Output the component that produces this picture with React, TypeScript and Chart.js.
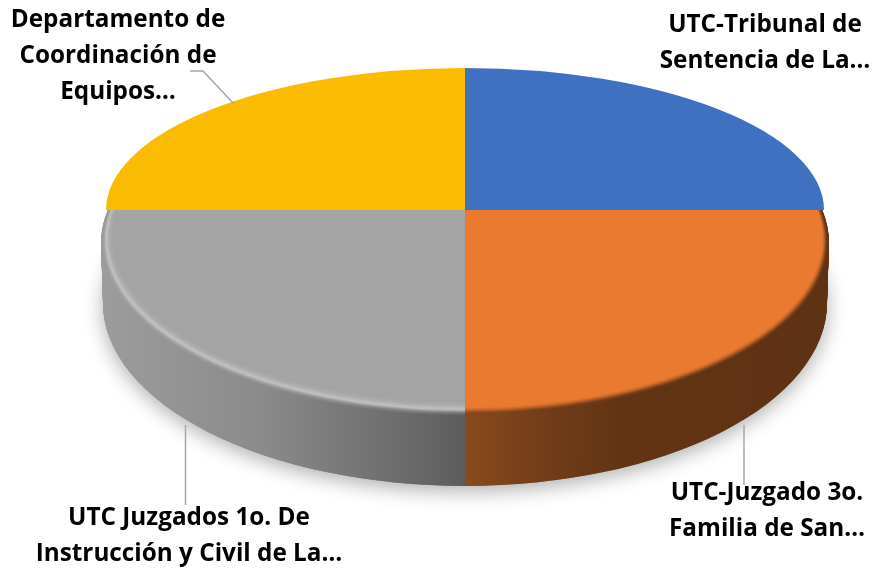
import React, { useEffect, useRef } from "react";
import { Chart, registerables } from "chart.js";

Chart.register(...registerables);

const categories = [
  "UTC-Tribunal de Sentencia de La…",
  "UTC-Juzgado 3o. Familia de San…",
  "UTC Juzgados 1o. De Instrucción y Civil de La…",
  "Departamento de Coordinación de Equipos…",
];
const values = [25, 25, 25, 25];
const colors = ["#4070c0", "#ea7a30", "#a4a4a4", "#fabc00"];
const labelLines = [
  ["UTC-Tribunal de", "Sentencia de La…"],
  ["UTC-Juzgado 3o.", "Familia de San…"],
  ["UTC Juzgados 1o. De", "Instrucción y Civil de La…"],
  ["Departamento de", "Coordinación de", "Equipos…"],
];
const labelCenterX = [765, 767, 189, 118];
const labelFirstBaseline = [32, 500, 525, 27];
const lineHeight = 36;
const leaders = [
  null,
  [[744, 425], [744, 485]],
  [[185.5, 425], [185.5, 505]],
  [[190, 71], [203, 71], [234, 104]],
];

const CX = 465;
const SPLIT = 210;
const TOP = { cy: 210, rx: 359, ry: 142 };
const LOW = { cy: 243, rx: 364, ry: 173 };
const BASE = { cy: 303, rx: 362, ry: 183 };

// wall colour stops: fraction along the half (0 = centre line, 1 = outer edge), r, g, b
const wallStops: Record<number, number[][]> = {
  1: [[0, 138, 74, 30], [0.18, 117, 63, 25], [0.42, 99, 52, 20], [1, 95, 50, 19]],
  2: [[0, 92, 92, 92], [0.2, 110, 110, 110], [0.55, 138, 138, 138], [1, 156, 156, 156]],
};
// bevel: inset in px, target colour, weight of the wall colour
const rimStops: Record<number, number[][]> = {
  1: [[0, 95, 50, 19, 1], [2, 124, 64, 25, 0.75], [4, 168, 90, 36, 0.35], [6, 208, 108, 42, 0.1], [8, 230, 120, 47, 0], [10, 234, 122, 48, 0]],
  2: [[0, 150, 150, 150, 1], [2, 160, 160, 160, 0.75], [4, 176, 176, 176, 0.4], [6, 194, 194, 194, 0.05], [8, 186, 186, 186, 0], [10, 172, 172, 172, 0], [14, 164, 164, 164, 0]],
};

function rimAt(i: number, k: number) {
  const s = rimStops[i];
  for (let j = 1; j < s.length; j++) {
    if (k <= s[j][0]) {
      const t = (k - s[j - 1][0]) / (s[j][0] - s[j - 1][0]);
      return [1, 2, 3, 4].map((n) => s[j - 1][n] + (s[j][n] - s[j - 1][n]) * t);
    }
  }
  return s[s.length - 1].slice(1);
}

function fillFor(ctx: CanvasRenderingContext2D, i: number, rLocal: number, k: number | null) {
  // the gradient is built in the arc's local units: the canvas transform applies to it when it fills
  const sign = i === 1 ? 1 : -1;
  const g = ctx.createLinearGradient(0, 0, sign * rLocal, 0);
  const rim = k === null ? [0, 0, 0, 1] : rimAt(i, k);
  wallStops[i].forEach((st) => {
    const w = rim[3];
    const c = [0, 1, 2].map((n) => Math.round(st[n + 1] * w + rim[n] * (1 - w)));
    g.addColorStop(st[0], `rgb(${c[0]},${c[1]},${c[2]})`);
  });
  return g;
}

function drawArc(ctx: CanvasRenderingContext2D, arc: any, e: { cy: number; rx: number; ry: number }, fill: any, start: number, end: number) {
  const saved = { x: arc.x, y: arc.y, startAngle: arc.startAngle, endAngle: arc.endAngle, circumference: arc.circumference, options: arc.options };
  const r = arc.outerRadius;
  ctx.save();
  ctx.translate(CX, e.cy);
  ctx.scale(e.rx / r, e.ry / r);
  arc.x = 0;
  arc.y = 0;
  arc.startAngle = start;
  arc.endAngle = end;
  arc.circumference = end - start;
  arc.options = { ...saved.options, backgroundColor: fill, borderWidth: 0 };
  arc.draw(ctx);
  Object.assign(arc, saved);
  ctx.restore();
}

const pie3d = {
  id: "pie3d",
  beforeDatasetDraw(chart: any) {
    const ctx: CanvasRenderingContext2D = chart.ctx;
    const arcs = chart.getDatasetMeta(0).data;
    const PI = Math.PI;
    const H = chart.height;
    const W = chart.width;

    // soft shadow under the wall
    ctx.save();
    ctx.beginPath();
    ctx.rect(0, 250, W, H - 250);
    ctx.clip();
    ctx.shadowColor = "rgba(0,0,0,0.32)";
    ctx.shadowBlur = 20;
    ctx.shadowOffsetY = 5;
    drawArc(ctx, arcs[2], BASE, "#808080", 0, 2 * PI - 0.0001);
    ctx.restore();

    const quarter = (i: number, fn: () => void) => {
      ctx.save();
      ctx.beginPath();
      if (i === 1) ctx.rect(CX, SPLIT, W - CX, H - SPLIT);
      else ctx.rect(0, SPLIT, CX, H - SPLIT);
      ctx.clip();
      fn();
      ctx.restore();
    };
    const wide = (i: number): [number, number] => (i === 1 ? [-PI / 2, PI / 2] : [PI / 2, (3 * PI) / 2]);

    // side wall
    [1, 2].forEach((i) => {
      quarter(i, () => {
        const [a, b] = wide(i);
        const steps = 60;
        const fill = fillFor(ctx, i, arcs[i].outerRadius, null);
        for (let s = steps; s >= 0; s--) {
          const t = s / steps;
          const e = {
            cy: LOW.cy + (BASE.cy - LOW.cy) * t,
            rx: LOW.rx + (BASE.rx - LOW.rx) * t,
            ry: LOW.ry + (BASE.ry - LOW.ry) * t,
          };
          drawArc(ctx, arcs[i], e, fill, a, b);
        }
      });
    });

    // bevel and face of the lower slices
    [1, 2].forEach((i) => {
      quarter(i, () => {
        const [a, b] = wide(i);
        for (let k = 0; k <= 14; k += 0.5) {
          const e = { cy: LOW.cy - k * 0.5, rx: LOW.rx - k * 0.8, ry: LOW.ry - k * 0.5 };
          drawArc(ctx, arcs[i], e, fillFor(ctx, i, arcs[i].outerRadius, k), a, b);
        }
      });
    });

    // upper slices
    [0, 3].forEach((i) => {
      drawArc(ctx, arcs[i], TOP, colors[i], arcs[i].startAngle, arcs[i].endAngle);
    });

    return false;
  },
  afterDatasetsDraw(chart: any) {
    const ctx: CanvasRenderingContext2D = chart.ctx;
    ctx.save();
    ctx.strokeStyle = "#a6a6a6";
    ctx.lineWidth = 1.5;
    leaders.forEach((l) => {
      if (!l) return;
      ctx.beginPath();
      l.forEach((p, n) => (n ? ctx.lineTo(p[0], p[1]) : ctx.moveTo(p[0], p[1])));
      ctx.stroke();
    });
    ctx.fillStyle = "#000";
    ctx.font = "bold 24.3px 'Open Sans'";
    ctx.textAlign = "center";
    ctx.textBaseline = "alphabetic";
    labelLines.forEach((lines, i) => {
      lines.forEach((t, n) => ctx.fillText(t, labelCenterX[i], labelFirstBaseline[i] + n * lineHeight));
    });
    ctx.restore();
  },
};

export default function App() {
  const ref = useRef<HTMLCanvasElement>(null);
  useEffect(() => {
    document.body.style.margin = "0";
    const chart = new Chart(ref.current!, {
      type: "pie",
      data: {
        labels: categories,
        datasets: [{ data: values, backgroundColor: colors, borderWidth: 0 }],
      },
      options: {
        animation: false,
        responsive: false,
        plugins: { legend: { display: false }, tooltip: { enabled: false } },
      },
      plugins: [pie3d],
    } as any);
    return () => chart.destroy();
  }, []);
  return <canvas ref={ref} width={873} height={569} style={{ display: "block" }} />;
}
